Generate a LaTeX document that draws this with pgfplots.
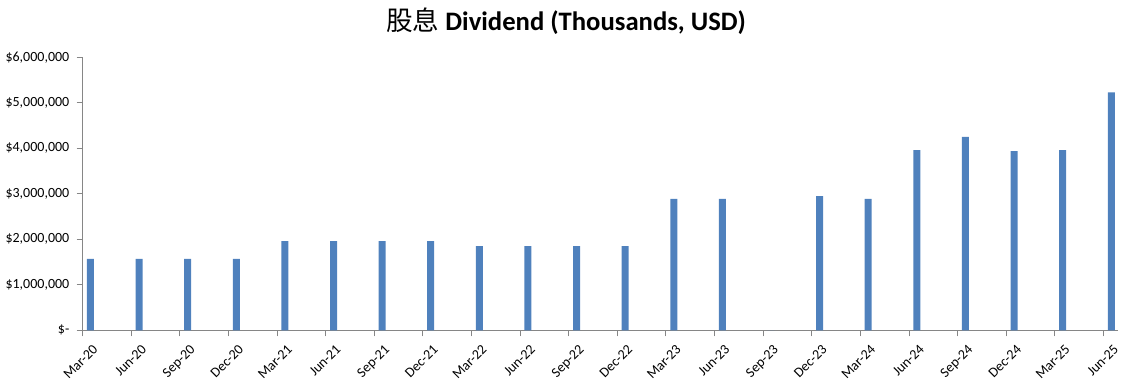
\documentclass[border=0pt]{standalone}
\usepackage{pgfplots}
\pgfplotsset{compat=1.18}
\usepackage{fontspec}
\setmainfont{Carlito}
\newfontfamily\cjk{Noto Sans CJK SC}
\definecolor{barblue}{HTML}{4F81BD}
\definecolor{axisgray}{HTML}{868686}
\begin{document}
\begin{tikzpicture}
\path[use as bounding box] (-62pt,-42.5pt) rectangle (790.7pt,247.7pt);
\begin{axis}[
  at={(0pt,0pt)}, anchor=south west,
  scale only axis, width=776.5pt, height=204.75pt,
  xmin=0, xmax=21.3, ymin=0, ymax=6000000,
  axis x line*=bottom, axis y line*=left,
  axis line style={draw=axisgray, line width=0.75pt, -},
  xtick={0,...,21},
  xticklabels={Mar-20,Jun-20,Sep-20,Dec-20,Mar-21,Jun-21,Sep-21,Dec-21,Mar-22,Jun-22,Sep-22,Dec-22,Mar-23,Jun-23,Sep-23,Dec-23,Mar-24,Jun-24,Sep-24,Dec-24,Mar-25,Jun-25},
  x tick label style={xshift=7pt, yshift=-4pt, rotate=45, anchor=north east, font=\fontsize{10.5}{12}\selectfont, inner sep=1pt},
  ytick={0,1000000,2000000,3000000,4000000,5000000,6000000},
  yticklabels={{\$-},{\$1,000,000},{\$2,000,000},{\$3,000,000},{\$4,000,000},{\$5,000,000},{\$6,000,000}},
  y tick label style={font=\fontsize{10.5}{12}\selectfont, anchor=east, xshift=-2pt},
  scaled y ticks=false,
  tick align=outside, major tick length=4.5pt,
  tick style={draw=axisgray, line width=0.75pt},
  title={{\mdseries\cjk 股息} \textbf{Dividend (Thousands, USD)}},
  title style={at={(0.4668,1)}, anchor=center, yshift=21pt, font=\fontsize{20}{24}\selectfont\bfseries},
]
\addplot[ybar, bar width=5.25pt, bar shift=0pt, fill=barblue, draw=none] coordinates {
(0.16,1570000) (1.16,1570000) (2.16,1570000) (3.16,1570000)
(4.16,1960000) (5.16,1960000) (6.16,1960000) (7.16,1960000)
(8.16,1850000) (9.16,1850000) (10.16,1850000) (11.16,1850000)
(12.16,2890000) (13.16,2890000) (14.16,0) (15.16,2950000)
(16.16,2890000) (17.16,3960000) (18.16,4250000) (19.16,3940000)
(20.16,3960000) (21.16,5230000)
};
\end{axis}
\end{tikzpicture}
\end{document}
